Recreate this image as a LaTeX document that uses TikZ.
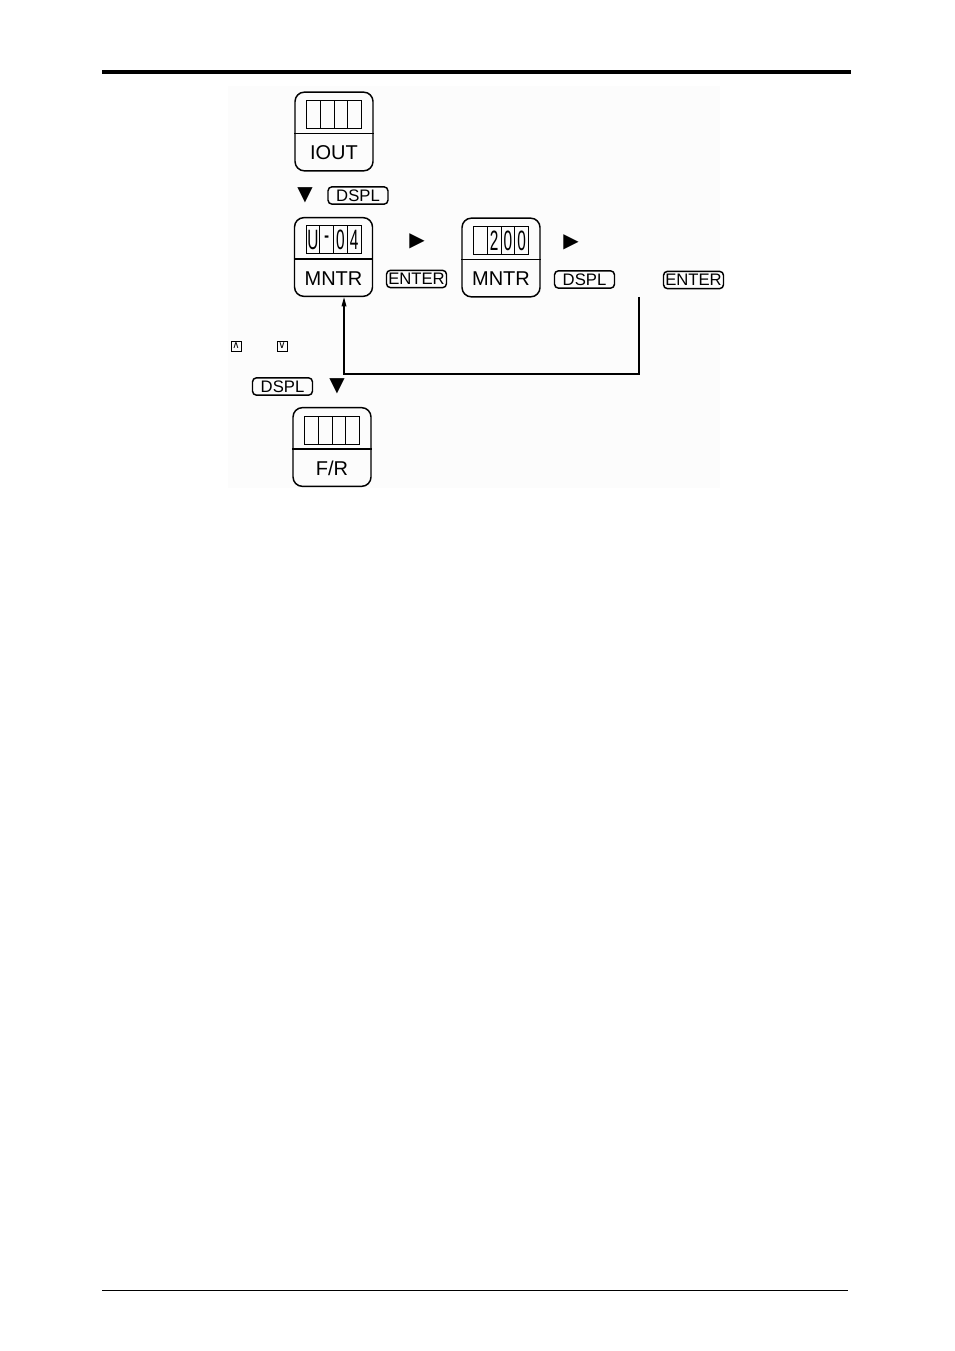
\documentclass[tikz,border=0pt]{standalone}
\usepackage{fontspec}
\setmainfont{Liberation Sans}
\newfontfamily\symfont{DejaVu Sans}
\usepackage{graphicx}
\usepackage{tikz}
\usetikzlibrary{arrows.meta, positioning, calc}
\definecolor{PanelGray}{HTML}{FCFCFC}
\tikzset{
    % Display unit styles
    unitbox/.style={
        rectangle,
        draw=black,
        rounded corners=7pt,
        line width=1.1pt,
        minimum width=58.5pt,
        minimum height=59pt
    },
    divline/.style={
        draw=black,
        line width=0.9pt
    },
    cellline/.style={
        draw=black,
        line width=0.75pt
    },
    unitlabel/.style={
        font=\fontsize{15}{15}\selectfont,
        inner sep=0pt
    },
    segtext/.style={
        font=\fontsize{21}{21}\selectfont,
        inner sep=0pt
    },
    % Key styles
    keybox/.style={
        rectangle,
        draw=black,
        rounded corners=3pt,
        line width=1.1pt,
        inner sep=0.5pt,
        minimum width=45pt,
        minimum height=13pt,
        font=\fontsize{12.5}{12.5}\selectfont
    },
    smallkey/.style={
        rectangle,
        draw=black,
        line width=0.7pt,
        minimum size=7.5pt,
        inner sep=0pt,
        font=\symfont\fontsize{7.5}{7.5}\selectfont
    },
    marker/.style={
        font=\symfont\fontsize{15}{15}\selectfont,
        inner sep=0pt
    },
    % Arrow styles
    loopline/.style={
        -{Triangle[length=7pt,width=3.5pt]},
        line width=1pt,
        black
    }
}
\newcommand{\segchar}[1]{\scalebox{0.55}[1]{#1}}
\newcommand{\dispunit}[4]{%
    \node[unitbox] (#1) at (#2,#3) {};
    \draw[divline] ($(#1.west)+(0,2)$) -- ($(#1.east)+(0,2)$);
    \draw[cellline] ($(#1)+(-27.5,-31)$) rectangle ($(#1)+(27.5,-3)$);
    \foreach \dx in {-13.75,0,13.75}
        \draw[cellline] ($(#1)+(\dx,-31)$) -- ($(#1)+(\dx,-3)$);
    \node[unitlabel] (#1-label) at ($(#1)+(0,21.5)$) {#4};
}

\begin{document}
\begin{tikzpicture}[x=0.75pt, y=-0.75pt]
    \useasboundingbox (0,0) rectangle (954,1351);

    % page rules and scanned panel
    \draw[line width=3pt] (102,72) -- (851,72);
    \draw[line width=0.6pt] (102,1290) -- (848,1290);
    \fill[PanelGray] (228,86) rectangle (720,488);

    % display units
    \dispunit{iout}{334}{131.5}{IOUT}
    \dispunit{mntrA}{333.5}{257}{MNTR}
    \dispunit{mntrB}{501}{257.5}{MNTR}
    \dispunit{fr}{332}{447}{F/R}

    % display contents
    \node[segtext] (mntrA-d1) at (312.9,240) {\segchar{U}};
    \node[segtext] (mntrA-d2) at (326.6,240) {\segchar{-}};
    \node[segtext] (mntrA-d3) at (340.4,240) {\segchar{0}};
    \node[segtext] (mntrA-d4) at (354.1,240) {\segchar{4}};
    \node[segtext] (mntrB-d2) at (494.1,240.5) {\segchar{2}};
    \node[segtext] (mntrB-d3) at (507.9,240.5) {\segchar{0}};
    \node[segtext] (mntrB-d4) at (521.6,240.5) {\segchar{0}};

    % keys and step markers
    \node[marker] (downA) at (305,195) {▼};
    \node[keybox] (dsplA) at (358,195.5) {DSPL};
    \node[marker] (rightA) at (417,241) {▶};
    \node[keybox] (enterA) at (416.5,279) {ENTER};
    \node[marker] (rightB) at (571,242) {▶};
    \node[keybox] (dsplB) at (584.5,279.5) {DSPL};
    \node[keybox] (enterB) at (693.5,280) {ENTER};
    \node[smallkey] (upkey) at (236,346) {∧};
    \node[smallkey] (downkey) at (282,346) {∨};
    \node[keybox] (dsplC) at (282.5,386.5) {DSPL};
    \node[marker] (downB) at (337,386) {▼};

    % return path
    \coordinate (back) at (639,297);
    \coordinate (turn) at (344,374);
    \draw[loopline] (back) |- (turn) -- (turn |- mntrA.south);
\end{tikzpicture}
\end{document}
